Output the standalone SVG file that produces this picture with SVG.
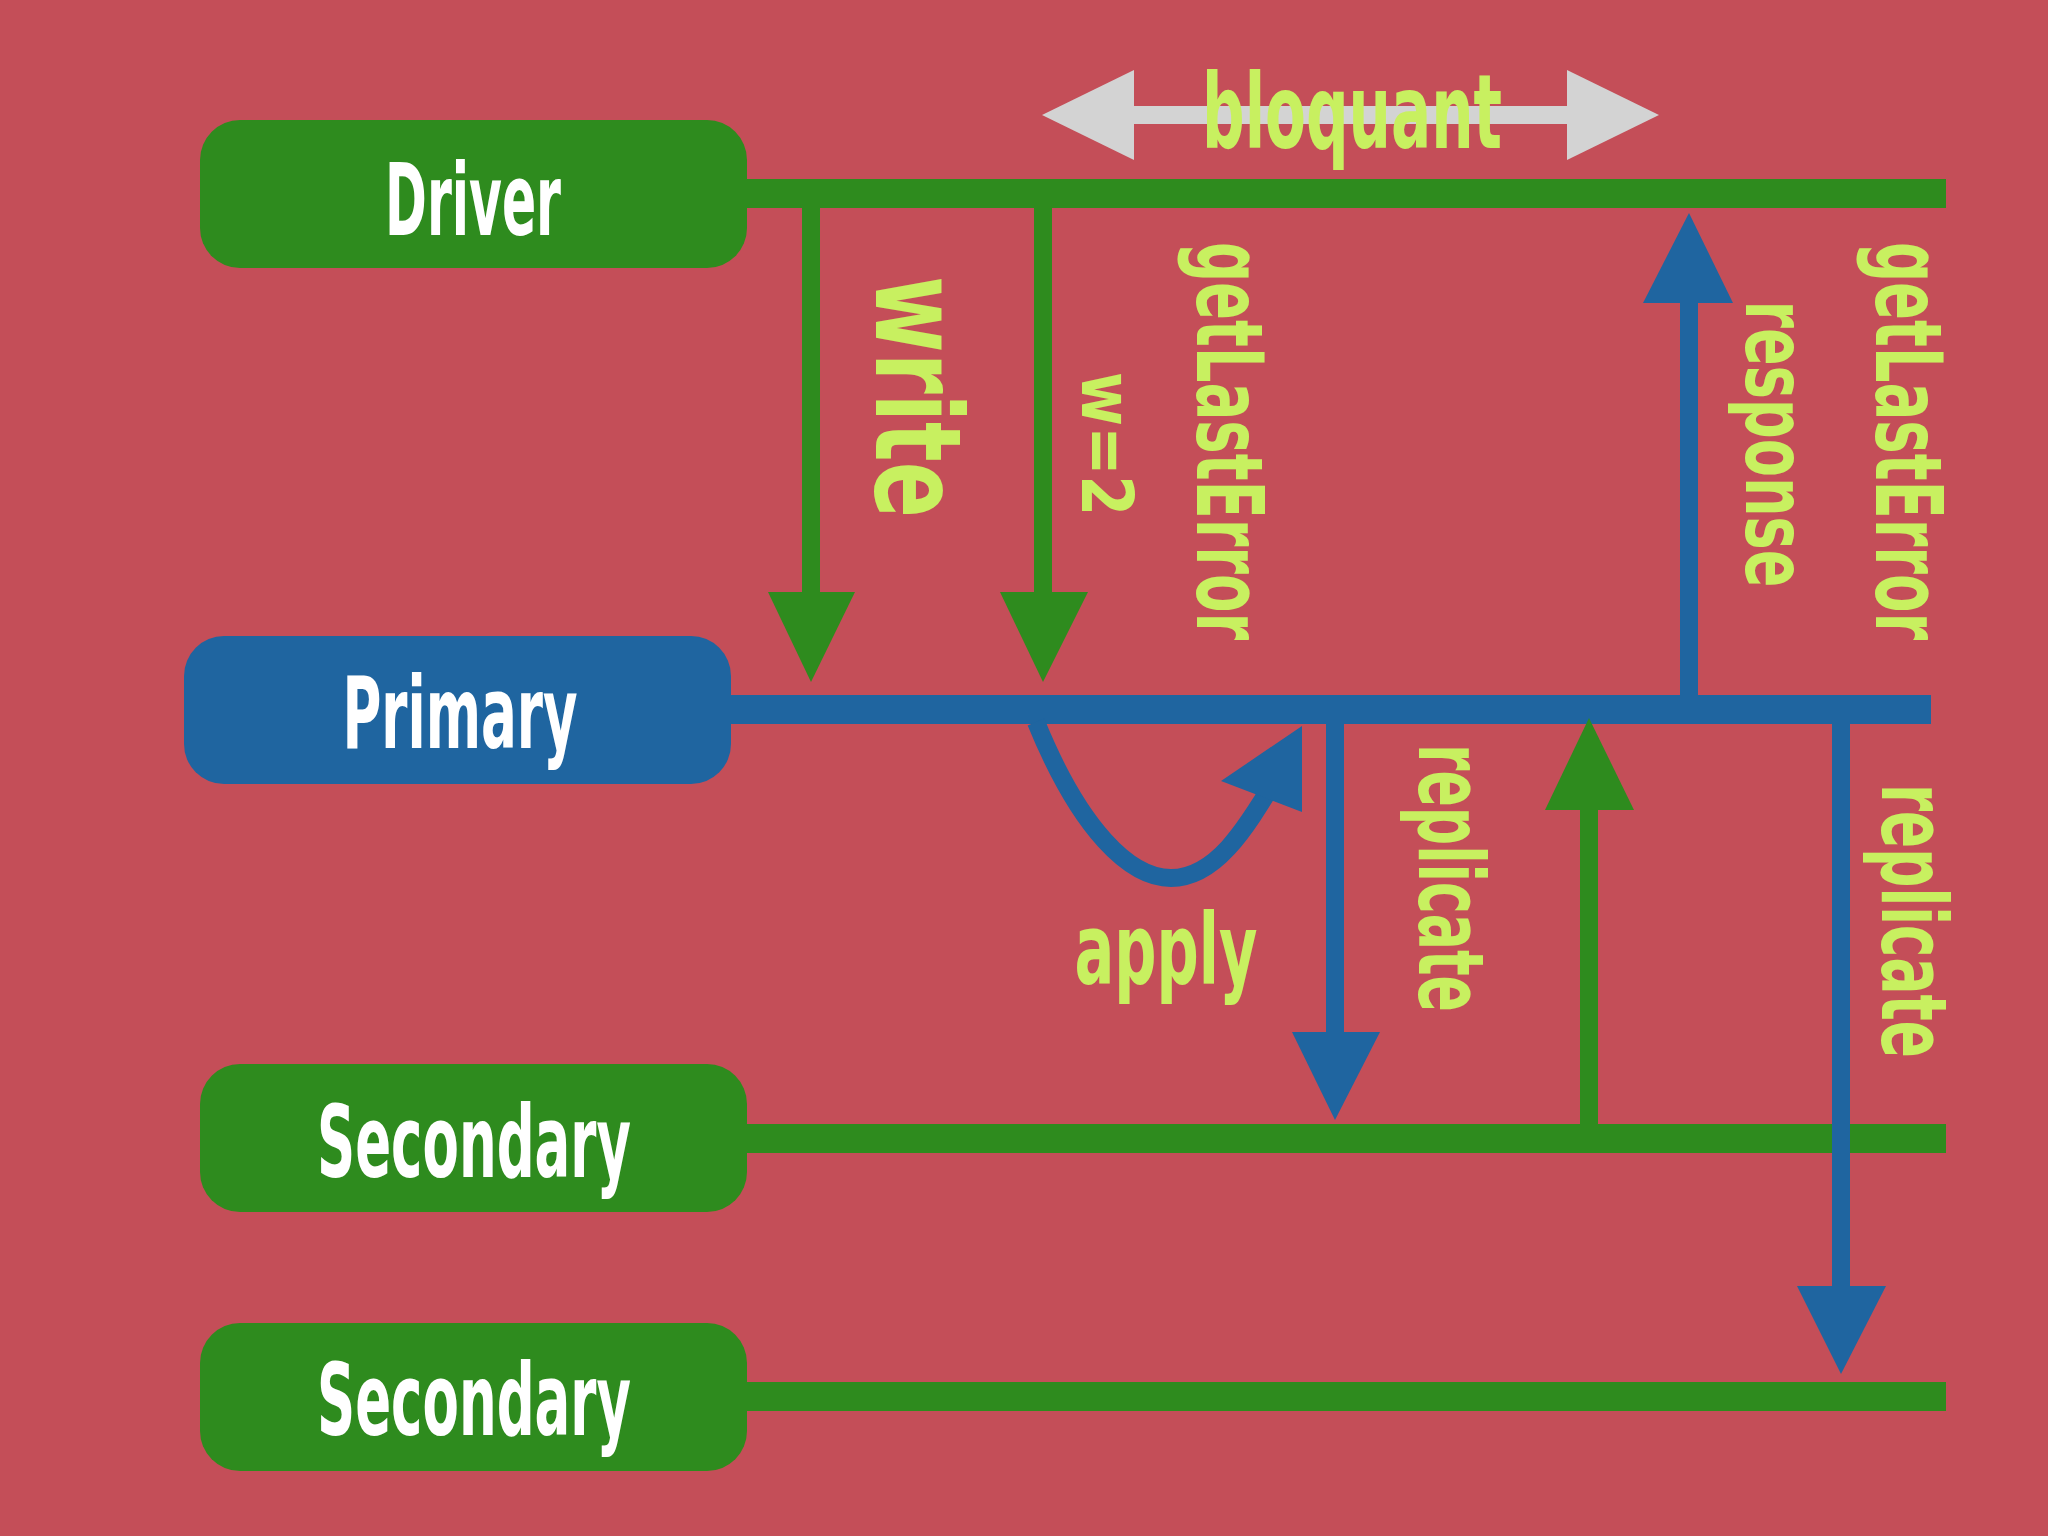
<svg xmlns="http://www.w3.org/2000/svg" width="2048" height="1536" viewBox="0 0 2048 1536">
<style>
.n{font-family:"Liberation Sans Narrow","DejaVu Sans Condensed","Liberation Sans",sans-serif;font-weight:bold;fill:#fff;font-size:100px;text-anchor:middle;dominant-baseline:central}
.l{font-family:"Liberation Sans Narrow","DejaVu Sans Condensed","Liberation Sans",sans-serif;font-weight:bold;fill:#C8F060;text-anchor:middle;dominant-baseline:central}
.g{fill:#2E8B1E}.b{fill:#1F65A0}
</style>
<rect width="2048" height="1536" fill="#C44E58"/>
<g id="driver"><rect x="200" y="120" width="547" height="148" rx="40" class="g"/><rect x="747" y="179" width="1199" height="29" class="g"/><text class="n" x="473" y="200" textLength="176" lengthAdjust="spacingAndGlyphs">Driver</text></g>
<g id="primary"><rect x="184" y="636" width="547" height="148" rx="40" class="b"/><rect x="731" y="695" width="1200" height="29" class="b"/><text class="n" x="460" y="713" textLength="235" lengthAdjust="spacingAndGlyphs">Primary</text></g>
<g id="secondary1"><rect x="200" y="1064" width="547" height="148" rx="40" class="g"/><rect x="747" y="1124" width="1199" height="29" class="g"/><text class="n" x="474" y="1142" textLength="314" lengthAdjust="spacingAndGlyphs">Secondary</text></g>
<g id="secondary2"><rect x="200" y="1323" width="547" height="148" rx="40" class="g"/><rect x="747" y="1382" width="1199" height="29" class="g"/><text class="n" x="474" y="1400" textLength="314" lengthAdjust="spacingAndGlyphs">Secondary</text></g>
<g id="connectors">
<rect x="802" y="208" width="18" height="390" class="g"/><polygon points="768,592 855,592 811,682" class="g"/>
<rect x="1034" y="208" width="18" height="390" class="g"/><polygon points="1000,592 1088,592 1043,682" class="g"/>
<rect x="1680" y="295" width="18" height="405" class="b"/><polygon points="1643,303 1733,303 1689,213" class="b"/>
<path d="M1036,722 C1080,830 1130,878 1171,878 C1215,878 1245,830 1275,780" fill="none" stroke="#1F65A0" stroke-width="18"/>
<polygon points="1302,726 1221,781 1302,812" class="b"/>
<rect x="1326" y="720" width="18" height="320" class="b"/><polygon points="1292,1032 1380,1032 1335,1120" class="b"/>
<rect x="1580" y="800" width="18" height="330" class="g"/><polygon points="1545,810 1634,810 1589,718" class="g"/>
<rect x="1832" y="720" width="18" height="575" class="b"/><polygon points="1797,1286 1886,1286 1841,1374" class="b"/>
<g fill="#D3D3D3"><rect x="1120" y="106" width="460" height="18"/><polygon points="1042,115 1134,70 1134,160"/><polygon points="1659,115 1567,70 1567,160"/></g>
</g>
<g id="labels">
<text class="l" font-size="104" x="1352" y="112" textLength="300" lengthAdjust="spacingAndGlyphs">bloquant</text>
<text class="l" font-size="120" transform="translate(917,397) rotate(90)" textLength="242" lengthAdjust="spacingAndGlyphs">write</text>
<text class="l" font-size="72" transform="translate(1107,444) rotate(90)" textLength="144" lengthAdjust="spacingAndGlyphs">w=2</text>
<text class="l" font-size="92" transform="translate(1228,441) rotate(90)" textLength="398" lengthAdjust="spacingAndGlyphs">getLastError</text>
<text class="l" font-size="86" transform="translate(1776,444) rotate(90)" textLength="287" lengthAdjust="spacingAndGlyphs">response</text>
<text class="l" font-size="92" transform="translate(1907,441) rotate(90)" textLength="398" lengthAdjust="spacingAndGlyphs">getLastError</text>
<text class="l" font-size="98" x="1166" y="950" textLength="183" lengthAdjust="spacingAndGlyphs">apply</text>
<text class="l" font-size="90" transform="translate(1450,878) rotate(90)" textLength="268" lengthAdjust="spacingAndGlyphs">replicate</text>
<text class="l" font-size="90" transform="translate(1913,921) rotate(90)" textLength="274" lengthAdjust="spacingAndGlyphs">replicate</text>
</g>
</svg>
